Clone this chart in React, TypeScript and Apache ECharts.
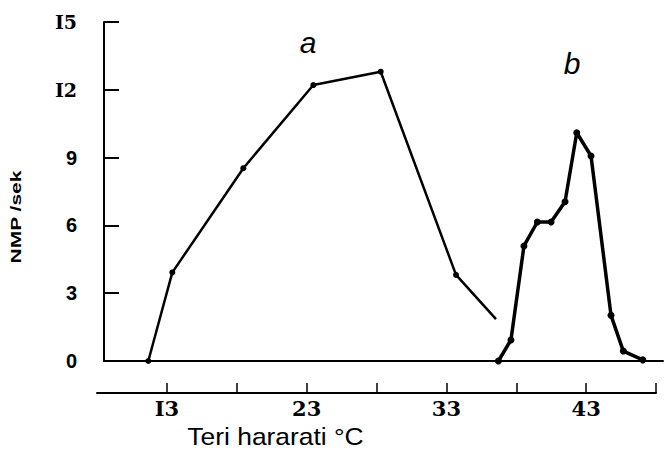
import React, { useEffect, useRef } from "react";
import * as echarts from "echarts";

// Curve a (temperature °C, NMP/sek); last point has no marker
const curveAX = [11.67, 13.39, 18.47, 23.48, 28.3, 33.69, 36.55];
const curveAY = [0, 3.92, 8.53, 12.21, 12.8, 3.81, 1.85];
const curveAMarked = [true, true, true, true, true, true, false];

// Curve b
const curveBX = [36.72, 37.62, 38.55, 39.51, 40.49, 41.49, 42.33, 43.35, 44.78, 45.66, 47.05];
const curveBY = [0, 0.93, 5.09, 6.15, 6.15, 7.05, 10.1, 9.07, 2.02, 0.44, 0.05];

// Axis ticks and labels
const yTickValues = [0, 3, 6, 9, 12, 15];
const yTickLabels = ["0", "3", "6", "9", "I2", "I5"];
const xTickValues = [13, 18, 23, 28, 33, 38, 43, 48];
const xLabelValues = [13, 23, 33, 43];
const xLabelTexts = ["I3", "23", "33", "43"];

const xAxisTitle = "Teri hararati °C";
const yAxisTitle = "NMP /sek";
const curveNames = ["a", "b"];

export default function App() {
  const ref = useRef<HTMLDivElement>(null);

  useEffect(() => {
    if (!ref.current) return;
    const chart = echarts.init(ref.current, undefined, { renderer: "svg" });

    const dataA = curveAX.map((x, i) =>
      curveAMarked[i] ? [x, curveAY[i]] : { value: [x, curveAY[i]], symbol: "none" }
    );
    const dataB = curveBX.map((x, i) => [x, curveBY[i]]);

    const serifBold = { fontFamily: "DejaVu Serif", fontWeight: "bold", fontSize: 19, color: "#000" };
    const sansBold = { fontFamily: "Liberation Sans", fontWeight: "bold", fontSize: 20, color: "#000" };

    chart.setOption({
      animation: false,
      backgroundColor: "#ffffff",
      grid: [
        { left: 104, right: 1, top: 22, bottom: 89 },
        { left: 97, right: 8, top: 22, bottom: 57 },
      ],
      xAxis: [
        {
          type: "value",
          gridIndex: 0,
          min: 8.5,
          max: 48.5,
          axisLine: { show: true, onZero: false, lineStyle: { color: "#000", width: 2 } },
          axisTick: { show: false },
          axisLabel: { show: false },
          splitLine: { show: false },
        },
        {
          type: "value",
          gridIndex: 1,
          min: 8,
          max: 48,
          axisLine: { show: true, onZero: false, lineStyle: { color: "#000", width: 2 } },
          axisTick: {
            show: true,
            inside: true,
            length: 10,
            customValues: xTickValues,
            lineStyle: { color: "#000", width: 1.5 },
          },
          axisLabel: {
            show: true,
            customValues: xLabelValues,
            margin: 5,
            color: "#000",
            fontFamily: "DejaVu Serif",
            fontWeight: "bold",
            fontSize: 21,
            formatter: (v: number) => {
              const i = xLabelValues.indexOf(v);
              return i >= 0 ? xLabelTexts[i] : "";
            },
          },
          splitLine: { show: false },
        },
      ],
      yAxis: [
        {
          type: "value",
          gridIndex: 0,
          min: 0,
          max: 15,
          interval: 3,
          axisLine: { show: true, lineStyle: { color: "#000", width: 2 } },
          axisTick: { show: true, inside: true, length: 15, lineStyle: { color: "#000", width: 2 } },
          axisLabel: {
            show: true,
            margin: 27,
            ...sansBold,
            formatter: (v: number) => {
              const i = yTickValues.indexOf(v);
              const t = i >= 0 ? yTickLabels[i] : "";
              return t.startsWith("I") ? `{s|${t}}` : `{n|${t}}`;
            },
            rich: { s: serifBold, n: sansBold },
          },
          splitLine: { show: false },
        },
        {
          type: "value",
          gridIndex: 1,
          show: false,
          min: 0,
          max: 15,
        },
      ],
      series: [
        {
          name: curveNames[0],
          type: "line",
          xAxisIndex: 0,
          yAxisIndex: 0,
          data: dataA,
          symbol: "circle",
          symbolSize: 6,
          itemStyle: { color: "#000" },
          lineStyle: { color: "#000", width: 2.5 },
        },
        {
          name: curveNames[1],
          type: "line",
          xAxisIndex: 0,
          yAxisIndex: 0,
          data: dataB,
          symbol: "circle",
          symbolSize: 7,
          itemStyle: { color: "#000" },
          lineStyle: { color: "#000", width: 3.5 },
        },
      ],
      graphic: [
        {
          type: "text",
          x: 308,
          y: 42,
          style: {
            text: curveNames[0],
            fontFamily: "Liberation Sans",
            fontStyle: "italic",
            fontSize: 30,
            fill: "#000",
            align: "center",
            verticalAlign: "middle",
          },
        },
        {
          type: "text",
          x: 572,
          y: 63,
          style: {
            text: curveNames[1],
            fontFamily: "Liberation Sans",
            fontStyle: "italic",
            fontSize: 30,
            fill: "#000",
            align: "center",
            verticalAlign: "middle",
          },
        },
        {
          type: "text",
          x: 275.5,
          y: 436,
          scaleX: 1.1,
          style: {
            text: xAxisTitle,
            fontFamily: "Liberation Sans",
            fontSize: 24,
            fill: "#000",
            align: "center",
            verticalAlign: "middle",
          },
        },
        {
          type: "text",
          x: 15.5,
          y: 217,
          rotation: Math.PI / 2,
          scaleX: 1.4,
          style: {
            text: yAxisTitle,
            fontFamily: "Liberation Sans",
            fontWeight: "bold",
            fontSize: 15,
            fill: "#000",
            align: "center",
            verticalAlign: "middle",
          },
        },
      ],
    });

    return () => chart.dispose();
  }, []);

  return (
    <div
      ref={ref}
      style={{ position: "fixed", left: 0, top: 0, width: 664, height: 450, background: "#fff" }}
    />
  );
}
